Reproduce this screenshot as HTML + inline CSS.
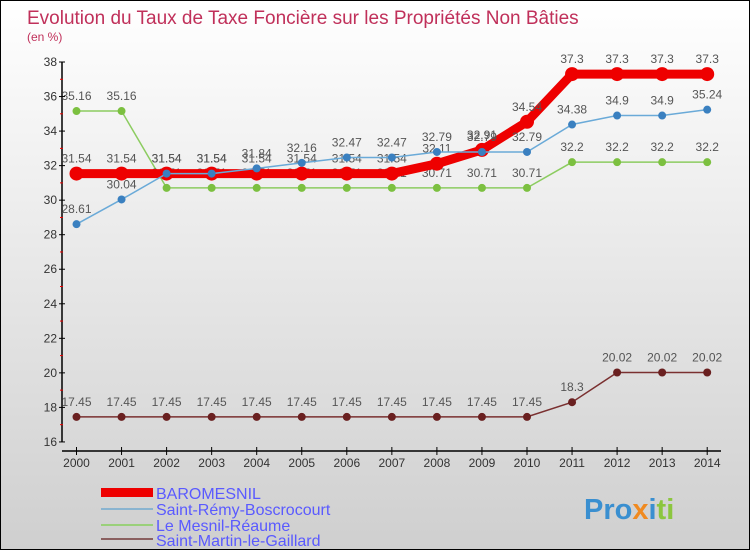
<!DOCTYPE html>
<html><head><meta charset="utf-8"><style>
body{margin:0}
#c{width:750px;height:550px;position:relative;overflow:hidden;box-sizing:border-box;border:1px solid #000;background:linear-gradient(#ffffff,#cfcfcf);font-family:"Liberation Sans",sans-serif}
svg text{font-family:"Liberation Sans",sans-serif}
</style></head><body>
<div id="c">
<svg id="s" width="750" height="550" xmlns="http://www.w3.org/2000/svg">
<text x="26" y="23" font-size="19" fill="#c0305a">Evolution du Taux de Taxe Foncière sur les Propriétés Non Bâties</text>
<text x="26" y="40" font-size="12" fill="#c0305a">(en %)</text>
<g id="axes"></g><g id="series"></g>
<g>
<rect x="100" y="487" width="52" height="9" fill="#e00"/>
<text x="155" y="498" font-size="16" fill="#5a5aff">BAROMESNIL</text>
<rect x="100" y="507" width="52" height="2" fill="#8ab4d0"/>
<text x="155" y="514" font-size="16" fill="#5a5aff">Saint-Rémy-Boscrocourt</text>
<rect x="100" y="523" width="52" height="2" fill="#9ad07a"/>
<text x="155" y="530" font-size="16" fill="#5a5aff">Le Mesnil-Réaume</text>
<rect x="100" y="537" width="52" height="2" fill="#8a6060"/>
<text x="155" y="545" font-size="16" fill="#5a5aff">Saint-Martin-le-Gaillard</text>
</g>
<text x="583" y="518" font-size="29" font-weight="bold"><tspan fill="#3a8fd0">Pro</tspan><tspan fill="#f08a20">x</tspan><tspan fill="#3a8fd0">i</tspan><tspan fill="#8cc63f">ti</tspan></text>
</svg>
</div>
<script>
const years=[2000,2001,2002,2003,2004,2005,2006,2007,2008,2009,2010,2011,2012,2013,2014];
const yTicks=[16,18,20,22,24,26,28,30,32,34,36,38];
const baromesnil=[31.54,31.54,31.54,31.54,31.54,31.54,31.54,31.54,32.11,32.91,34.54,37.3,37.3,37.3,37.3];
const saintRemy=[28.61,30.04,31.54,31.54,31.84,32.16,32.47,32.47,32.79,32.79,32.79,34.38,34.9,34.9,35.24];
const leMesnil=[35.16,35.16,30.71,30.71,30.71,30.71,30.71,30.71,30.71,30.71,30.71,32.2,32.2,32.2,32.2];
const saintMartin=[17.45,17.45,17.45,17.45,17.45,17.45,17.45,17.45,17.45,17.45,17.45,18.3,20.02,20.02,20.02];
const NS="http://www.w3.org/2000/svg";
const X=i=>75.5+i*45.05;
const Y=v=>61+(38-v)*17.27;
function mk(t,a,p){const e=document.createElementNS(NS,t);for(const k in a)e.setAttribute(k,a[k]);p.appendChild(e);return e;}
const ax=document.getElementById('axes');
const yl=mk('line',{x1:61,y1:61,x2:61,y2:441,stroke:'#000','stroke-width':1.5},ax);


const xl=mk('line',{x1:61,y1:450,x2:720,y2:450,stroke:'#000','stroke-width':1.5},ax);


yTicks.forEach(v=>{
 mk('line',{x1:58,y1:Y(v),x2:64,y2:Y(v),stroke:'#000'},ax);
 if(v>16)mk('line',{x1:59,y1:Y(v-1),x2:62,y2:Y(v-1),stroke:'#e00'},ax);
 const t=mk('text',{x:56,y:Y(v)+4,'font-size':12,'text-anchor':'end',fill:'#333'},ax);
 t.textContent=v;
 
 
});
years.forEach((yr,i)=>{
 mk('line',{x1:X(i),y1:446,x2:X(i),y2:454,stroke:'#000'},ax);
 const t=mk('text',{x:X(i),y:466,'font-size':12,'text-anchor':'middle',fill:'#333'},ax);
 t.textContent=yr;
 
 
});
const sg=document.getElementById('series');
function draw(vals,name,color,w,r,dot){
 const g=mk('g',{},sg);
 
 
 const l=mk('polyline',{points:vals.map((v,i)=>X(i)+','+Y(v)).join(' '),fill:'none',stroke:color,'stroke-width':w},g);
 
 
 vals.forEach((v,i)=>{
  const c=mk('circle',{cx:X(i),cy:Y(v),r:r,fill:dot},g);
  
  
  const t=mk('text',{x:X(i),y:Y(v)-11,'font-size':12,'text-anchor':'middle',fill:'#555'},g);
  t.textContent=v;
  
  
 });
}
draw(saintMartin,'saint-martin','#7a3030',1.5,4,'#6a2020');
draw(leMesnil,'le-mesnil','#8ccc60',1.5,4,'#7cc040');
draw(baromesnil,'baromesnil','#ee0000',9,7,'#ee0000');
draw(saintRemy,'saint-remy','#6aaad8',1.5,4,'#3a80c0');
</script>
</body></html>
